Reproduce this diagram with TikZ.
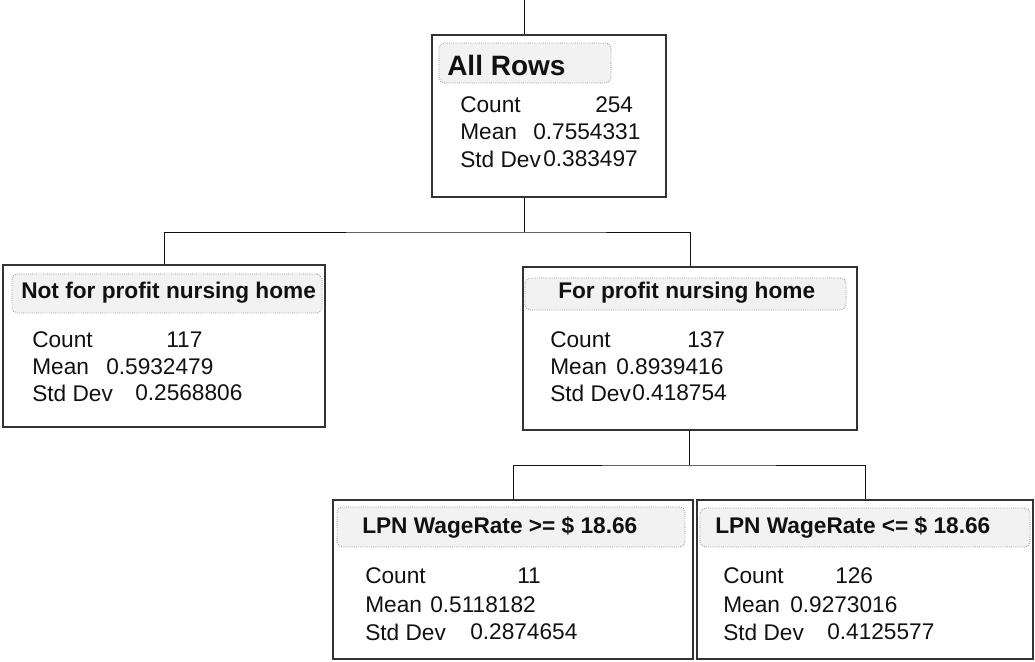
\documentclass[tikz,border=0pt]{standalone}
\usepackage{fontspec}
\setmainfont{Liberation Sans}
\usetikzlibrary{positioning, fit}
\definecolor{ink}{HTML}{111111}
\definecolor{frame}{HTML}{333333}
\definecolor{hdrfill}{HTML}{F2F2F2}
\definecolor{hdrline}{HTML}{8C8C8C}
\tikzset{
  cell/.style={draw=frame, line width=1.1pt, inner sep=0pt},
  hdr/.style={draw=hdrline, densely dotted, fill=hdrfill, rounded corners=4pt,
              line width=0.6pt, inner sep=0pt},
  hd/.style={anchor=west, inner sep=0pt, text=ink, font=\bfseries\fontsize{17}{20}\selectfont},
  stat/.style={anchor=west, inner sep=0pt, text=ink, font=\fontsize{17}{20}\selectfont},
  wire/.style={draw=ink, line width=0.7pt},
}

\begin{document}
\begin{tikzpicture}[x=0.75pt, y=-0.75pt]
    \useasboundingbox (0,0) rectangle (1035,661);
    % boxes and their header bands
    \node[cell, fit={(432,35)(666,197)}] (root) {};
    \node[hdr, fit={(439,43)(611,83)}] (rooth) {};
    \node[cell, fit={(3,265)(325,427)}] (nfp) {};
    \node[hdr, fit={(12,274)(322,313)}] (nfph) {};
    \node[cell, fit={(523,267)(857,430)}] (fp) {};
    \node[hdr, fit={(525,278)(846,310)}] (fph) {};
    \node[cell, fit={(333,500)(693,659)}] (ge) {};
    \node[hdr, fit={(337,507)(685,547)}] (geh) {};
    \node[cell, fit={(697,500)(1033,659)}] (le) {};
    \node[hdr, fit={(700,508)(1030,547)}] (leh) {};
    % root
    \node[hd, font=\bfseries\fontsize{21}{24}\selectfont] (rootl) at (447,65) {All Rows};
    \node[stat] (rootc) at (460,105) {Count};   \node[stat] (rootcv) at (595,105) {254};
    \node[stat] (rootm) at (460,132) {Mean};    \node[stat] (rootmv) at (533,132) {0.7554331};
    \node[stat] (roots) at (460,159) {Std Dev}; \node[stat] (rootsv) at (543,159) {0.383497};
    % not for profit
    \node[hd] (nfpl) at (21,293) {Not for profit nursing home};
    \node[stat] (nfpc) at (32,340) {Count};   \node[stat] (nfpcv) at (166,340) {117};
    \node[stat] (nfpm) at (32,367) {Mean};    \node[stat] (nfpmv) at (106,367) {0.5932479};
    \node[stat] (nfps) at (32,393) {Std Dev}; \node[stat] (nfpsv) at (135,393) {0.2568806};
    % for profit
    \node[hd] (fpl) at (558,293) {For profit nursing home};
    \node[stat] (fpc) at (550,340) {Count};   \node[stat] (fpcv) at (687,340) {137};
    \node[stat] (fpm) at (550,367) {Mean};    \node[stat] (fpmv) at (616,367) {0.8939416};
    \node[stat] (fps) at (550,393) {Std Dev}; \node[stat] (fpsv) at (632,393) {0.418754};
    % wage rate >=
    \node[hd] (gel) at (362,527) {LPN WageRate >= \$ 18.66};
    \node[stat] (gec) at (365,576) {Count};   \node[stat] (gecv) at (517,576) {11};
    \node[stat] (gem) at (365,605) {Mean};    \node[stat] (gemv) at (430,605) {0.5118182};
    \node[stat] (ges) at (365,632) {Std Dev}; \node[stat] (gesv) at (470,632) {0.2874654};
    % wage rate <=
    \node[hd] (lel) at (715,527) {LPN WageRate <= \$ 18.66};
    \node[stat] (lec) at (723,576) {Count};   \node[stat] (lecv) at (835,576) {126};
    \node[stat] (lem) at (723,605) {Mean};    \node[stat] (lemv) at (790,605) {0.9273016};
    \node[stat] (les) at (723,632) {Std Dev}; \node[stat] (lesv) at (827,632) {0.4125577};
    % tree lines
    \coordinate (top) at (524,0);
    \coordinate (j1) at (524,232);
    \coordinate (j2) at (689,465);
    \draw[wire] (top) -- (top |- root.north);
    \draw[wire] (top |- root.south) -- (j1);
    \draw[wire] (nfp.north) |- (j1) -| (fp.north);
    \draw[wire] (fp.south -| j2) -- (j2);
    \draw[wire] (ge.north) |- (j2) -| (le.north);
\end{tikzpicture}
\end{document}
